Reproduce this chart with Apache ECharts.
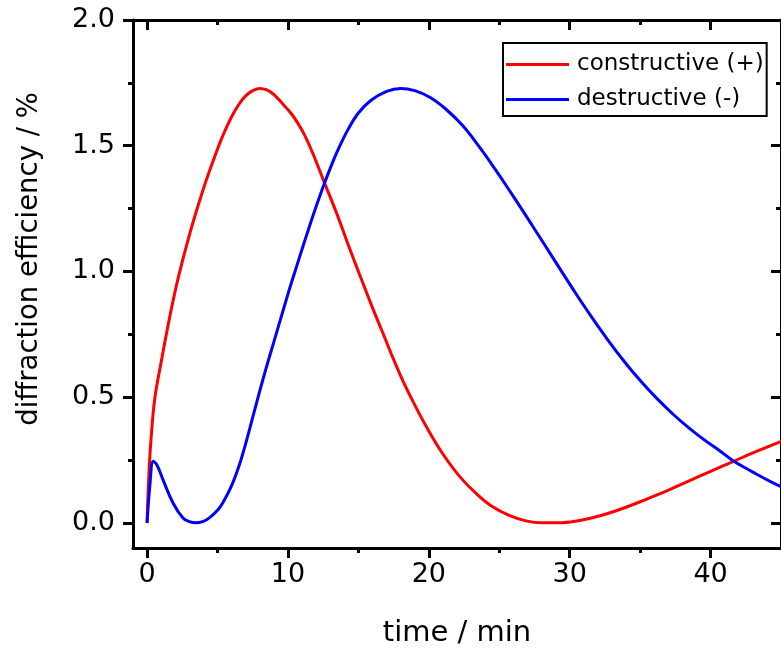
<!DOCTYPE html>
<html>
<head>
<meta charset="UTF-8">
<title>diffraction efficiency</title>
<script src="https://cdn.jsdelivr.net/npm/echarts@6/dist/echarts.min.js"></script>
<style>
  html, body { margin: 0; padding: 0; background: #fff; }
  #main { width: 781px; height: 655px; }
</style>
</head>
<body>
<div id="main"></div>
<script>
// constructive (+) curve
var timeRed = [0, 0.15, 0.33, 0.56, 1.0, 1.4, 1.85, 2.3, 3.0, 3.6, 4.2, 5.0, 5.4, 6.0, 6.5, 7.0, 7.5, 8.0, 8.5, 9.0, 9.6, 10.2, 10.7, 11.2, 11.8, 12.5, 13.5, 14.25, 15.0, 15.9, 16.7, 17.5, 18.2, 18.9, 19.9, 21.0, 22.2, 23.4, 24.5, 25.7, 26.9, 28.0, 29.2, 30.4, 31.6, 32.7, 33.9, 35.0, 36.2, 37.4, 38.6, 40.0, 41.6, 43.0, 44.4, 45.5];
var constructive = [0, 0.22, 0.37, 0.50, 0.64, 0.76, 0.885, 0.995, 1.144, 1.258, 1.363, 1.487, 1.543, 1.615, 1.663, 1.698, 1.719, 1.728, 1.722, 1.703, 1.668, 1.63, 1.59, 1.54, 1.465, 1.365, 1.225, 1.11, 1.0, 0.87, 0.76, 0.65, 0.56, 0.48, 0.375, 0.274, 0.184, 0.115, 0.065, 0.03, 0.008, 0.0, 0.0, 0.006, 0.02, 0.037, 0.06, 0.084, 0.111, 0.14, 0.17, 0.205, 0.244, 0.278, 0.31, 0.335];

// destructive (-) curve
var timeBlue = [0, 0.2, 0.44, 0.7, 1.14, 1.85, 2.55, 3.0, 3.45, 4.0, 4.42, 5.0, 5.4, 6.0, 6.5, 7.0, 7.5, 8.0, 8.5, 9.0, 9.5, 10.0, 10.5, 11.0, 11.5, 12.0, 12.5, 13.0, 13.54, 14.25, 15.0, 15.88, 17.0, 18.0, 19.0, 20.1, 21.2, 22.4, 23.6, 24.8, 25.7, 26.65, 27.5, 28.3, 29.3, 30.4, 31.5, 32.7, 33.9, 35.1, 36.2, 37.4, 38.5, 39.7, 40.6, 41.6, 43.0, 44.4, 45.5];
var destructive = [0, 0.15, 0.245, 0.23, 0.17, 0.078, 0.019, 0.005, 0, 0.006, 0.02, 0.05, 0.082, 0.148, 0.222, 0.315, 0.42, 0.525, 0.625, 0.72, 0.815, 0.91, 1.0, 1.088, 1.175, 1.258, 1.337, 1.41, 1.482, 1.563, 1.63, 1.68, 1.716, 1.728, 1.719, 1.692, 1.646, 1.58, 1.494, 1.399, 1.324, 1.243, 1.169, 1.099, 1.011, 0.915, 0.823, 0.728, 0.64, 0.56, 0.494, 0.429, 0.376, 0.324, 0.289, 0.247, 0.202, 0.16, 0.132];

var seriesNames = ['constructive (+)', 'destructive (-)'];

// tick positions
var xMajor = [0, 10, 20, 30, 40];
var xMinor = [5, 15, 25, 35];
var yMajor = [0, 0.5, 1.0, 1.5, 2.0];
var yMinor = [0.25, 0.75, 1.25, 1.75];

function pairs(xs, ys) {
  var out = [];
  for (var i = 0; i < xs.length; i++) out.push([xs[i], ys[i]]);
  return out;
}

var font = 'DejaVu Sans, Liberation Sans, sans-serif';
var tickStyle = { color: '#000', width: 3 };
var xMin = -1, xMax = 45, yMin = -0.1, yMax = 2.0;

// one axis drawing a set of ticks; only the first of each side carries the line and labels
function makeAxis(kind, pos, ticks, len, inside, withLine, labels) {
  var ax = {
    type: 'value',
    position: pos,
    min: kind === 'x' ? xMin : yMin,
    max: kind === 'x' ? xMax : yMax,
    axisLine: { show: withLine, onZero: false, lineStyle: { color: '#000', width: 3 } },
    axisTick: { show: true, inside: inside, length: len, customValues: ticks, lineStyle: tickStyle },
    axisLabel: { show: false },
    splitLine: { show: false }
  };
  if (labels) {
    ax.axisLabel = {
      show: true,
      customValues: ticks,
      margin: kind === 'x' ? 13 : 18,
      fontFamily: font,
      fontSize: 27,
      color: '#000',
      formatter: kind === 'x' ? function (v) { return String(v); } : function (v) { return v.toFixed(1); }
    };
  }
  return ax;
}

var xBottom = makeAxis('x', 'bottom', xMajor, 10, false, true, true);
xBottom.name = 'time / min';
xBottom.nameLocation = 'middle';
xBottom.nameGap = 71;
xBottom.nameTextStyle = { fontFamily: font, fontSize: 29, color: '#000' };

var yLeft = makeAxis('y', 'left', yMajor, 10, false, true, true);
yLeft.name = 'diffraction efficiency / %';
yLeft.nameLocation = 'middle';
yLeft.nameGap = 89;
yLeft.nameTextStyle = { fontFamily: font, fontSize: 27.5, color: '#000', padding: [0, 0, 0, 50] };

var myChart = echarts.init(document.getElementById('main'), null, { renderer: 'canvas' });
var option = {
  backgroundColor: '#fff',
  animation: false,
  grid: { left: 133, top: 20, width: 656, height: 528 },
  legend: {
    data: seriesNames,
    orient: 'vertical',
    left: 503,
    top: 43,
    icon: 'rect',
    itemWidth: 63,
    itemHeight: 3,
    itemGap: 12,
    padding: [10, 3, 5, 3],
    borderColor: '#000',
    borderWidth: 2,
    textStyle: { fontFamily: font, fontSize: 23, color: '#000', padding: [0, 0, 0, 3] }
  },
  xAxis: [
    xBottom,
    makeAxis('x', 'bottom', xMinor, 5, false, false, false),
    makeAxis('x', 'top', xMajor, 10, true, true, false),
    makeAxis('x', 'top', xMinor, 5, true, false, false)
  ],
  yAxis: [
    yLeft,
    makeAxis('y', 'left', yMinor, 5, false, false, false),
    makeAxis('y', 'right', yMajor, 10, true, true, false),
    makeAxis('y', 'right', yMinor, 5, true, false, false)
  ],
  series: [{
    name: seriesNames[0],
    type: 'line',
    xAxisIndex: 0,
    yAxisIndex: 0,
    data: pairs(timeRed, constructive),
    symbol: 'none',
    smooth: 0.4,
    color: '#ff0000',
    lineStyle: { color: '#ff0000', width: 3 }
  }, {
    name: seriesNames[1],
    type: 'line',
    xAxisIndex: 0,
    yAxisIndex: 0,
    data: pairs(timeBlue, destructive),
    symbol: 'none',
    smooth: 0.4,
    color: '#0000ff',
    lineStyle: { color: '#0000ff', width: 3 }
  }]
};
myChart.setOption(option);
</script>
</body>
</html>
